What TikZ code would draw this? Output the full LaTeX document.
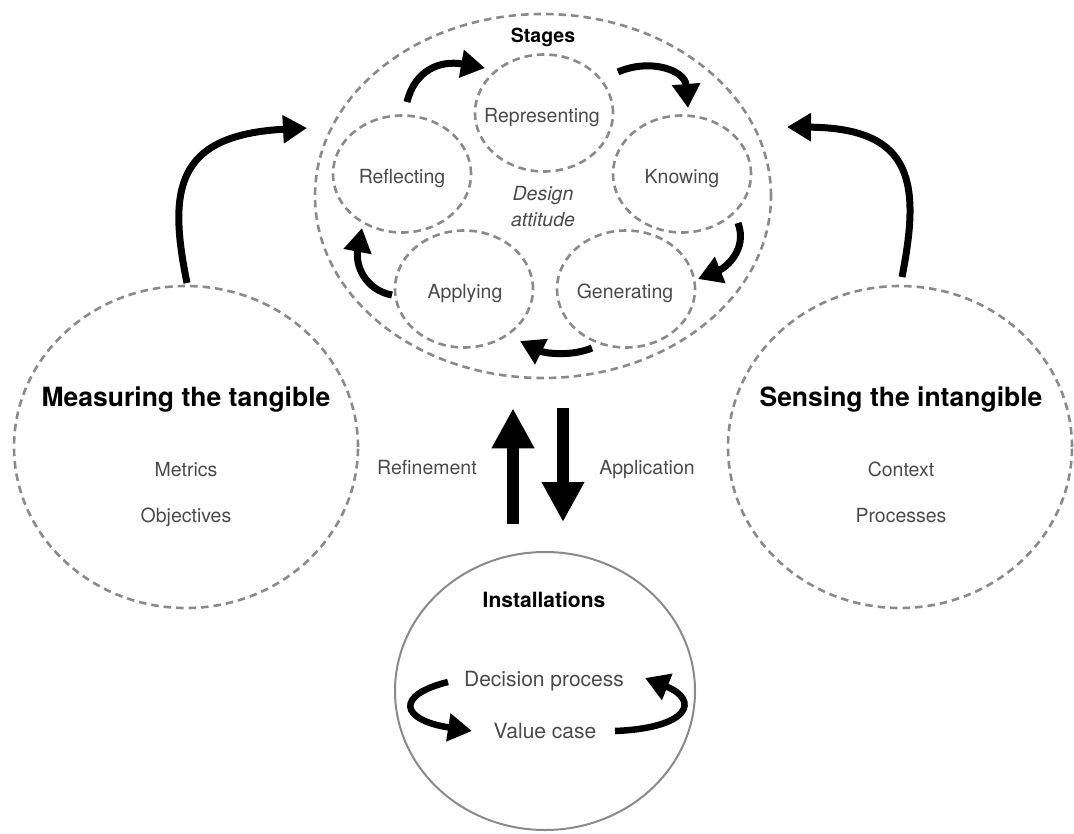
\documentclass[tikz,border=0pt]{standalone}
\usepackage{fontspec}
\setmainfont{TeX Gyre Heros}
\usetikzlibrary{arrows.meta,shapes.geometric}

\definecolor{dashgray}{HTML}{8A8A8A}
\definecolor{labelgray}{HTML}{4A4A4A}

\begin{document}
\begin{tikzpicture}[x=1pt,y=-1pt,
  zone/.style={ellipse, draw=dashgray, line width=2.6pt,
    dash pattern=on 7.5pt off 5pt, inner sep=0pt},
  stagezone/.style={zone, minimum width=138pt, minimum height=117pt},
  lab/.style={text=labelgray, anchor=base, inner sep=0pt,
    font=\fontsize{19.5pt}{23pt}\selectfont},
  biglab/.style={text=labelgray, anchor=base, inner sep=0pt,
    font=\fontsize{21pt}{25pt}\selectfont},
  headlab/.style={text=black, anchor=base, inner sep=0pt,
    font=\bfseries\fontsize{19.5pt}{23pt}\selectfont},
  titlelab/.style={text=black, anchor=base, inner sep=0pt,
    font=\bfseries\fontsize{26.5pt}{30pt}\selectfont},
  flow/.style={line width=7pt, -{Triangle[length=24pt,width=27pt]}},
  bigflow/.style={line width=12pt, -{Triangle[length=40pt,width=40pt]}}
]
\useasboundingbox (0,0) rectangle (1074,833);

% stages cluster
\node[zone, minimum width=456pt, minimum height=364pt] (stages) at (543,196) {};
\node[stagezone] (repr) at (544,113) {};
\node[stagezone] (refl) at (402,174) {};
\node[stagezone] (know) at (682,174) {};
\node[stagezone] (appl) at (464,289) {};
\node[stagezone] (gen)  at (626,289) {};

\node[headlab] (stagesT) at (543,42) {Stages};
\node[lab] (reprT) at (542,122) {Representing};
\node[lab] (reflT) at (402,183) {Reflecting};
\node[lab] (knowT) at (682,183) {Knowing};
\node[lab] (applT) at (465,298) {Applying};
\node[lab] (genT)  at (625,298) {Generating};
\node[lab, font=\itshape\fontsize{19.5pt}{23pt}\selectfont] (designT) at (543,200) {Design};
\node[lab, font=\itshape\fontsize{19.5pt}{23pt}\selectfont] (attT) at (543,226) {attitude};

% cycle between the stages
\draw[flow] ([shift={(5,-72)}]refl.center) .. controls +(8,-32) and +(-45,-8) .. ([shift={(-59,-45)}]repr.center);
\draw[flow] ([shift={(74,-41)}]repr.center) .. controls +(32,-14) and +(-3,-38) .. ([shift={(6,-66)}]know.center);
\draw[flow] ([shift={(56,49)}]know.center) .. controls +(10,27) and +(27,-11) .. ([shift={(72,-10)}]gen.center);
\draw[flow] ([shift={(-34,59)}]gen.center) .. controls +(-22,9) and +(24,12) .. ([shift={(56,52)}]appl.center);
\draw[flow] ([shift={(-72,6)}]appl.center) .. controls +(-27,-5) and +(-7,37) .. ([shift={(-40,54)}]refl.center);

% side circles
\node[zone, minimum width=344pt, minimum height=322pt] (meas) at (186,447) {};
\node[zone, minimum width=344pt, minimum height=322pt] (sens) at (900,447) {};

\node[titlelab] (measT) at (186,406) {Measuring the tangible};
\node[lab] (metT) at (186,476) {Metrics};
\node[lab] (objT) at (186,522) {Objectives};

\node[titlelab] (sensT) at (901,406) {Sensing the intangible};
\node[lab] (ctxT) at (901,476) {Context};
\node[lab] (procT) at (901,522) {Processes};

\draw[flow] ([shift={(1,-164)}]meas.center) .. controls +(-19,-93) and +(-132,7) .. ([shift={(-236,-68)}]stages.center);
\draw[flow] ([shift={(2,-170)}]sens.center) .. controls +(18,-92) and +(128,1) .. ([shift={(244,-69)}]stages.center);

% installations
\node[ellipse, draw=dashgray, line width=2pt, minimum width=300pt, minimum height=278pt, inner sep=0pt] (inst) at (545,691) {};
\node[headlab, font=\bfseries\fontsize{21pt}{25pt}\selectfont] (instT) at (544,607) {Installations};
\node[biglab] (decT) at (544,686) {Decision process};
\node[biglab] (valT) at (545,738) {Value case};

\draw[flow, line width=6.5pt] ([shift={(-97,-9)}]inst.center) .. controls +(-53,13) and +(-72,-11) .. ([shift={(-73,40)}]inst.center);
\draw[flow, line width=6.5pt] ([shift={(70,40)}]inst.center) .. controls +(75,-3) and +(55,22) .. ([shift={(100,-13)}]inst.center);

% refinement and application
\draw[bigflow] ([shift={(-32,-27)}]inst.north) -- ([shift={(-30,29)}]stages.south);
\draw[bigflow] ([shift={(20,29)}]stages.south) -- ([shift={(18,-29)}]inst.north);
\node[lab] (refT) at (427,474) {Refinement};
\node[lab] (appT) at (647,474) {Application};
\end{tikzpicture}
\end{document}
